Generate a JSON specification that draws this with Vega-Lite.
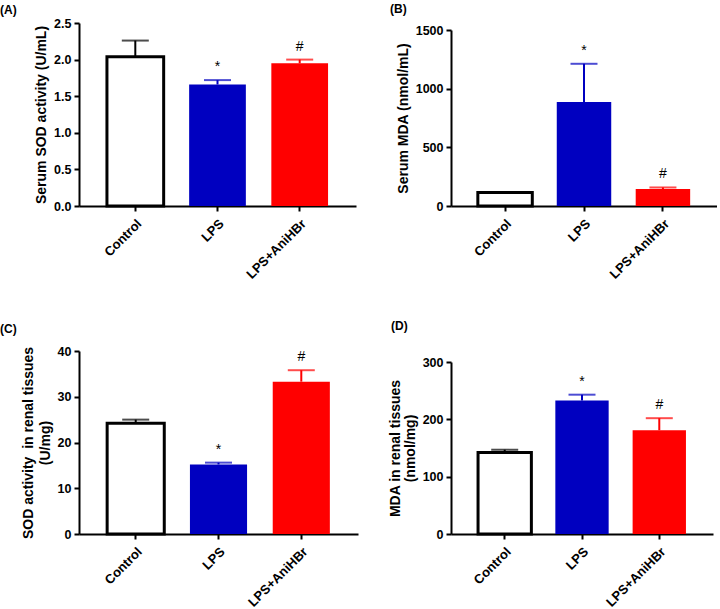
{
  "$schema": "https://vega.github.io/schema/vega-lite/v6.json",
  "padding": {"left": 0, "top": 3, "right": 0, "bottom": 0},
  "background": "white",
  "data": {
    "values": [
      {"panel": "A", "group": "Control", "mean": 2.04, "upper": 2.26, "sig": ""},
      {"panel": "A", "group": "LPS", "mean": 1.66, "upper": 1.72, "sig": "*"},
      {"panel": "A", "group": "LPS+AniHBr", "mean": 1.95, "upper": 2.0, "sig": "#"},
      {"panel": "B", "group": "Control", "mean": 114, "upper": 114, "sig": ""},
      {"panel": "B", "group": "LPS", "mean": 886, "upper": 1212, "sig": "*"},
      {"panel": "B", "group": "LPS+AniHBr", "mean": 145, "upper": 158, "sig": "#"},
      {"panel": "C", "group": "Control", "mean": 24.2, "upper": 25.0, "sig": ""},
      {"panel": "C", "group": "LPS", "mean": 15.2, "upper": 15.6, "sig": "*"},
      {"panel": "C", "group": "LPS+AniHBr", "mean": 33.3, "upper": 35.8, "sig": "#"},
      {"panel": "D", "group": "Control", "mean": 142, "upper": 147, "sig": ""},
      {"panel": "D", "group": "LPS", "mean": 233, "upper": 243, "sig": "*"},
      {"panel": "D", "group": "LPS+AniHBr", "mean": 181, "upper": 202, "sig": "#"}
    ]
  },
  "columns": 2,
  "bounds": "flush",
  "align": "each",
  "spacing": {"row": 145, "column": 93},
  "concat": [
    {
      "width": 277, "height": 183,
      "title": {"text": "(A)", "dx": -79, "offset": 0},
      "transform": [{"filter": "datum.panel == 'A'"}],
      "encoding": {
        "x": {"field": "group", "type": "nominal", "sort": null, "scale": {"paddingInner": 0.31, "paddingOuter": 0.34}, "axis": {"title": null}}
      },
      "layer": [
        {"mark": {"type": "bar"}, "encoding": {
          "y": {"field": "mean", "type": "quantitative", "scale": {"domain": [0, 2.5], "nice": false}, "axis": {"title": "Serum SOD activity (U/mL)", "values": [0, 0.5, 1, 1.5, 2, 2.5], "format": ".1f"}},
          "fill": {"field": "group", "type": "nominal", "scale": {"domain": ["Control", "LPS", "LPS+AniHBr"], "range": ["#ffffff", "#0000c0", "#ff0000"]}, "legend": null},
          "stroke": {"field": "group", "type": "nominal", "scale": {"domain": ["Control", "LPS", "LPS+AniHBr"], "range": ["#000000", "#0000c0", "#ff0000"]}, "legend": null},
          "strokeWidth": {"condition": {"test": "datum.group == 'Control'", "value": 3}, "value": 0}
        }},
        {"mark": {"type": "rule", "strokeWidth": 2}, "encoding": {
          "y": {"field": "mean", "type": "quantitative", "axis": {"title": "Serum SOD activity (U/mL)", "values": [0, 0.5, 1, 1.5, 2, 2.5], "format": ".1f"}}, "y2": {"field": "upper"},
          "stroke": {"field": "group", "type": "nominal", "legend": null}
        }},
        {"mark": {"type": "tick", "size": 27, "thickness": 2, "orient": "horizontal"}, "encoding": {
          "y": {"field": "upper", "type": "quantitative", "axis": {"title": "Serum SOD activity (U/mL)", "values": [0, 0.5, 1, 1.5, 2, 2.5], "format": ".1f"}},
          "color": {"field": "group", "type": "nominal", "scale": {"domain": ["Control", "LPS", "LPS+AniHBr"], "range": ["#000000", "#0000c0", "#ff0000"]}, "legend": null}
        }},
        {"mark": {"type": "text", "baseline": "alphabetic", "dy": -9, "fontSize": 14, "fontWeight": "normal", "color": "black"}, "encoding": {
          "y": {"field": "upper", "type": "quantitative", "axis": {"title": "Serum SOD activity (U/mL)", "values": [0, 0.5, 1, 1.5, 2, 2.5], "format": ".1f"}},
          "text": {"field": "sig"}
        }}
      ]
    },
    {
      "width": 266, "height": 183,
      "title": {"text": "(B)", "dx": -61, "offset": 7},
      "transform": [{"filter": "datum.panel == 'B'"}],
      "encoding": {
        "x": {"field": "group", "type": "nominal", "sort": null, "scale": {"paddingInner": 0.31, "paddingOuter": 0.34}, "axis": {"title": null}}
      },
      "layer": [
        {"mark": {"type": "bar"}, "encoding": {
          "y": {"field": "mean", "type": "quantitative", "scale": {"domain": [0, 1500], "nice": false, "range": [183, 7]}, "axis": {"title": "Serum MDA (nmol/mL)", "values": [0, 500, 1000, 1500], "format": "d"}},
          "fill": {"field": "group", "type": "nominal", "scale": {"domain": ["Control", "LPS", "LPS+AniHBr"], "range": ["#ffffff", "#0000c0", "#ff0000"]}, "legend": null},
          "stroke": {"field": "group", "type": "nominal", "scale": {"domain": ["Control", "LPS", "LPS+AniHBr"], "range": ["#000000", "#0000c0", "#ff0000"]}, "legend": null},
          "strokeWidth": {"condition": {"test": "datum.group == 'Control'", "value": 3}, "value": 0}
        }},
        {"mark": {"type": "rule", "strokeWidth": 2}, "encoding": {
          "y": {"field": "mean", "type": "quantitative", "axis": {"title": "Serum MDA (nmol/mL)", "values": [0, 500, 1000, 1500], "format": "d"}}, "y2": {"field": "upper"},
          "stroke": {"field": "group", "type": "nominal", "legend": null}
        }},
        {"mark": {"type": "tick", "size": 27, "thickness": 2, "orient": "horizontal"}, "encoding": {
          "y": {"field": "upper", "type": "quantitative", "axis": {"title": "Serum MDA (nmol/mL)", "values": [0, 500, 1000, 1500], "format": "d"}},
          "color": {"field": "group", "type": "nominal", "scale": {"domain": ["Control", "LPS", "LPS+AniHBr"], "range": ["#000000", "#0000c0", "#ff0000"]}, "legend": null}
        }},
        {"mark": {"type": "text", "baseline": "alphabetic", "dy": -9, "fontSize": 14, "fontWeight": "normal", "color": "black"}, "encoding": {
          "y": {"field": "upper", "type": "quantitative", "axis": {"title": "Serum MDA (nmol/mL)", "values": [0, 500, 1000, 1500], "format": "d"}},
          "text": {"field": "sig"}
        }}
      ]
    },
    {
      "width": 279, "height": 183,
      "title": {"text": "(C)", "dx": -79, "offset": 9},
      "transform": [{"filter": "datum.panel == 'C'"}],
      "encoding": {
        "x": {"field": "group", "type": "nominal", "sort": null, "scale": {"paddingInner": 0.31, "paddingOuter": 0.34}, "axis": {"title": null}}
      },
      "layer": [
        {"mark": {"type": "bar"}, "encoding": {
          "y": {"field": "mean", "type": "quantitative", "scale": {"domain": [0, 40], "nice": false}, "axis": {"title": ["SOD activity \u00a0in renal tissues", "(U/mg)"], "values": [0, 10, 20, 30, 40], "format": "d", "titleLineHeight": 17}},
          "fill": {"field": "group", "type": "nominal", "scale": {"domain": ["Control", "LPS", "LPS+AniHBr"], "range": ["#ffffff", "#0000c0", "#ff0000"]}, "legend": null},
          "stroke": {"field": "group", "type": "nominal", "scale": {"domain": ["Control", "LPS", "LPS+AniHBr"], "range": ["#000000", "#0000c0", "#ff0000"]}, "legend": null},
          "strokeWidth": {"condition": {"test": "datum.group == 'Control'", "value": 3}, "value": 0}
        }},
        {"mark": {"type": "rule", "strokeWidth": 2}, "encoding": {
          "y": {"field": "mean", "type": "quantitative", "axis": {"title": ["SOD activity \u00a0in renal tissues", "(U/mg)"], "values": [0, 10, 20, 30, 40], "format": "d", "titleLineHeight": 17}}, "y2": {"field": "upper"},
          "stroke": {"field": "group", "type": "nominal", "legend": null}
        }},
        {"mark": {"type": "tick", "size": 27, "thickness": 2, "orient": "horizontal"}, "encoding": {
          "y": {"field": "upper", "type": "quantitative", "axis": {"title": ["SOD activity \u00a0in renal tissues", "(U/mg)"], "values": [0, 10, 20, 30, 40], "format": "d", "titleLineHeight": 17}},
          "color": {"field": "group", "type": "nominal", "scale": {"domain": ["Control", "LPS", "LPS+AniHBr"], "range": ["#000000", "#0000c0", "#ff0000"]}, "legend": null}
        }},
        {"mark": {"type": "text", "baseline": "alphabetic", "dy": -9, "fontSize": 14, "fontWeight": "normal", "color": "black"}, "encoding": {
          "y": {"field": "upper", "type": "quantitative", "axis": {"title": ["SOD activity \u00a0in renal tissues", "(U/mg)"], "values": [0, 10, 20, 30, 40], "format": "d", "titleLineHeight": 17}},
          "text": {"field": "sig"}
        }}
      ]
    },
    {
      "width": 262, "height": 183,
      "title": {"text": "(D)", "dx": -60, "offset": 18},
      "transform": [{"filter": "datum.panel == 'D'"}],
      "encoding": {
        "x": {"field": "group", "type": "nominal", "sort": null, "scale": {"paddingInner": 0.31, "paddingOuter": 0.35}, "axis": {"title": null}}
      },
      "layer": [
        {"mark": {"type": "bar"}, "encoding": {
          "y": {"field": "mean", "type": "quantitative", "scale": {"domain": [0, 300], "nice": false, "range": [183, 11]}, "axis": {"title": ["MDA in renal tissues", "(nmol/mg)"], "values": [0, 100, 200, 300], "format": "d", "titleLineHeight": 15}},
          "fill": {"field": "group", "type": "nominal", "scale": {"domain": ["Control", "LPS", "LPS+AniHBr"], "range": ["#ffffff", "#0000c0", "#ff0000"]}, "legend": null},
          "stroke": {"field": "group", "type": "nominal", "scale": {"domain": ["Control", "LPS", "LPS+AniHBr"], "range": ["#000000", "#0000c0", "#ff0000"]}, "legend": null},
          "strokeWidth": {"condition": {"test": "datum.group == 'Control'", "value": 3}, "value": 0}
        }},
        {"mark": {"type": "rule", "strokeWidth": 2}, "encoding": {
          "y": {"field": "mean", "type": "quantitative", "axis": {"title": ["MDA in renal tissues", "(nmol/mg)"], "values": [0, 100, 200, 300], "format": "d", "titleLineHeight": 15}}, "y2": {"field": "upper"},
          "stroke": {"field": "group", "type": "nominal", "legend": null}
        }},
        {"mark": {"type": "tick", "size": 27, "thickness": 2, "orient": "horizontal"}, "encoding": {
          "y": {"field": "upper", "type": "quantitative", "axis": {"title": ["MDA in renal tissues", "(nmol/mg)"], "values": [0, 100, 200, 300], "format": "d", "titleLineHeight": 15}},
          "color": {"field": "group", "type": "nominal", "scale": {"domain": ["Control", "LPS", "LPS+AniHBr"], "range": ["#000000", "#0000c0", "#ff0000"]}, "legend": null}
        }},
        {"mark": {"type": "text", "baseline": "alphabetic", "dy": -9, "fontSize": 14, "fontWeight": "normal", "color": "black"}, "encoding": {
          "y": {"field": "upper", "type": "quantitative", "axis": {"title": ["MDA in renal tissues", "(nmol/mg)"], "values": [0, 100, 200, 300], "format": "d", "titleLineHeight": 15}},
          "text": {"field": "sig"}
        }}
      ]
    }
  ],
  "config": {
    "font": "Liberation Sans",
    "view": {"stroke": null},
    "title": {"anchor": "start", "frame": "group", "fontSize": 12, "fontWeight": "bold", "color": "black", "font": "Liberation Sans"},
    "axis": {
      "grid": false,
      "domainColor": "black", "domainWidth": 2,
      "tickColor": "black", "tickWidth": 2, "tickSize": 5,
      "labelFont": "Liberation Sans", "labelFontSize": 12.5, "labelFontWeight": "bold", "labelColor": "black", "labelPadding": 3,
      "titleFont": "Liberation Sans", "titleFontSize": 14, "titleFontWeight": "bold", "titleColor": "black", "titlePadding": 5
    },
    "axisX": {"labelAngle": -45, "labelAlign": "right", "labelBaseline": "top", "labelPadding": 6, "labelFontSize": 13}
  }
}
